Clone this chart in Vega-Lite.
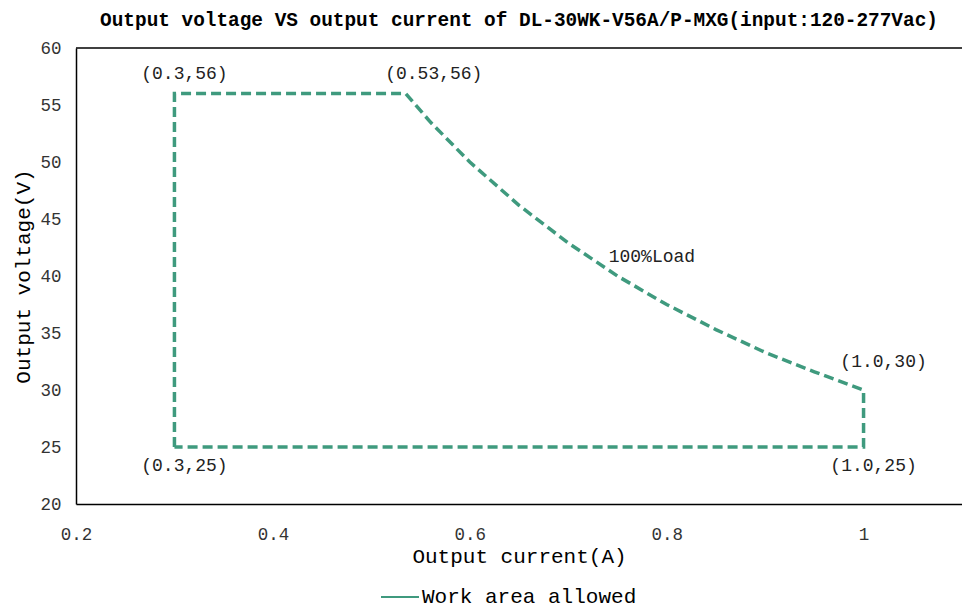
{
  "$schema": "https://vega.github.io/schema/vega-lite/v6.json",
  "autosize": "none",
  "width": 886,
  "height": 456,
  "padding": {"left": 76, "top": 48, "right": 0, "bottom": 104},
  "background": "white",
  "title": {
    "text": "Output voltage VS output current of DL-30WK-V56A/P-MXG(input:120-277Vac)",
    "font": "Liberation Mono",
    "fontSize": 19.4,
    "fontWeight": "bold",
    "color": "#000000",
    "anchor": "middle",
    "offset": 9
  },
  "config": {
    "view": {"stroke": null},
    "font": "Liberation Mono"
  },
  "datasets": {
    "boundary": [
      {"seq": 1, "current": 0.3, "voltage": 25, "series": "Work area allowed"},
      {"seq": 2, "current": 0.3, "voltage": 56, "series": "Work area allowed"},
      {"seq": 3, "current": 0.535, "voltage": 56, "series": "Work area allowed"},
      {"seq": 4, "current": 0.56, "voltage": 53.5, "series": "Work area allowed"},
      {"seq": 5, "current": 0.6, "voltage": 50.0, "series": "Work area allowed"},
      {"seq": 6, "current": 0.65, "voltage": 46.2, "series": "Work area allowed"},
      {"seq": 7, "current": 0.7, "voltage": 42.9, "series": "Work area allowed"},
      {"seq": 8, "current": 0.75, "voltage": 40.0, "series": "Work area allowed"},
      {"seq": 9, "current": 0.8, "voltage": 37.5, "series": "Work area allowed"},
      {"seq": 10, "current": 0.85, "voltage": 35.3, "series": "Work area allowed"},
      {"seq": 11, "current": 0.9, "voltage": 33.3, "series": "Work area allowed"},
      {"seq": 12, "current": 0.95, "voltage": 31.6, "series": "Work area allowed"},
      {"seq": 13, "current": 1.0, "voltage": 30, "series": "Work area allowed"},
      {"seq": 14, "current": 1.0, "voltage": 25, "series": "Work area allowed"},
      {"seq": 15, "current": 0.3, "voltage": 25, "series": "Work area allowed"}
    ],
    "labels": [
      {"label": "(0.3,56)", "current": 0.3, "voltage": 56},
      {"label": "(0.53,56)", "current": 0.535, "voltage": 56},
      {"label": "(1.0,30)", "current": 1.0, "voltage": 30},
      {"label": "(1.0,25)", "current": 1.0, "voltage": 25},
      {"label": "(0.3,25)", "current": 0.3, "voltage": 25},
      {"label": "100%Load", "current": 0.72, "voltage": 41.7}
    ]
  },
  "layer": [
    {
      "data": {"values": [{}]},
      "mark": {"type": "rule", "color": "#000000", "strokeWidth": 1.5},
      "encoding": {"y": {"datum": 60, "type": "quantitative", "scale": {"domain": [20, 60], "nice": false}}}
    },
    {
      "data": {"name": "boundary"},
      "mark": {"type": "line", "strokeWidth": 3.5, "strokeDash": [10, 5], "strokeCap": "butt", "strokeJoin": "miter"},
      "encoding": {
        "x": {
          "field": "current",
          "type": "quantitative",
          "scale": {"domain": [0.2, 1.1], "nice": false, "zero": false},
          "axis": {
            "values": [0.2, 0.4, 0.6, 0.8, 1],
            "format": "~g",
            "grid": false,
            "ticks": false,
            "labelFlush": false,
            "domainColor": "#000000",
            "domainWidth": 1.5,
            "labelFont": "Liberation Mono",
            "labelFontSize": 17.5,
            "labelColor": "#333333",
            "labelPadding": 21,
            "title": "Output current(A)",
            "titleFont": "Liberation Mono",
            "titleFontSize": 21,
            "titleFontWeight": "normal",
            "titleColor": "#000000",
            "titlePadding": 3
          }
        },
        "y": {
          "field": "voltage",
          "type": "quantitative",
          "scale": {"domain": [20, 60], "nice": false, "zero": false},
          "axis": {
            "values": [20, 25, 30, 35, 40, 45, 50, 55, 60],
            "grid": false,
            "ticks": false,
            "labelFlush": false,
            "domainColor": "#000000",
            "domainWidth": 1.5,
            "labelFont": "Liberation Mono",
            "labelFontSize": 17.5,
            "labelColor": "#333333",
            "labelPadding": 15,
            "title": "Output voltage(V)",
            "titleFont": "Liberation Mono",
            "titleFontSize": 21,
            "titleFontWeight": "normal",
            "titleColor": "#000000",
            "titlePadding": 6
          }
        },
        "order": {"field": "seq", "type": "quantitative"},
        "color": {
          "field": "series",
          "type": "nominal",
          "scale": {"range": ["#3f9a7e"]},
          "legend": {
            "orient": "none",
            "legendX": 304,
            "legendY": 529,
            "title": null,
            "symbolType": "stroke",
            "symbolSize": 1444,
            "symbolStrokeWidth": 2,
            "symbolDash": [1, 0],
            "symbolStrokeColor": "#5aaa8e",
            "labelFont": "Liberation Mono",
            "labelFontSize": 21,
            "labelColor": "#000000",
            "labelLimit": 400,
            "labelOffset": 2
          }
        }
      }
    },
    {
      "data": {"name": "labels"},
      "transform": [{"filter": "datum.label == '(0.3,56)'"}],
      "mark": {"type": "text", "fontSize": 18, "color": "#222222", "dx": 10, "dy": -20},
      "encoding": {
        "x": {"field": "current", "type": "quantitative"},
        "y": {"field": "voltage", "type": "quantitative"},
        "text": {"field": "label"}
      }
    },
    {
      "data": {"name": "labels"},
      "transform": [{"filter": "datum.label == '(0.53,56)'"}],
      "mark": {"type": "text", "fontSize": 18, "color": "#222222", "dx": 28, "dy": -20},
      "encoding": {
        "x": {"field": "current", "type": "quantitative"},
        "y": {"field": "voltage", "type": "quantitative"},
        "text": {"field": "label"}
      }
    },
    {
      "data": {"name": "labels"},
      "transform": [{"filter": "datum.label == '(1.0,30)'"}],
      "mark": {"type": "text", "fontSize": 18, "color": "#222222", "dx": 20, "dy": -28},
      "encoding": {
        "x": {"field": "current", "type": "quantitative"},
        "y": {"field": "voltage", "type": "quantitative"},
        "text": {"field": "label"}
      }
    },
    {
      "data": {"name": "labels"},
      "transform": [{"filter": "datum.label == '(1.0,25)' || datum.label == '(0.3,25)'"}],
      "mark": {"type": "text", "fontSize": 18, "color": "#222222", "dx": 10, "dy": 19},
      "encoding": {
        "x": {"field": "current", "type": "quantitative"},
        "y": {"field": "voltage", "type": "quantitative"},
        "text": {"field": "label"}
      }
    },
    {
      "data": {"name": "labels"},
      "transform": [{"filter": "datum.label == '100%Load'"}],
      "mark": {"type": "text", "fontSize": 18, "color": "#222222", "dx": 64, "dy": 0},
      "encoding": {
        "x": {"field": "current", "type": "quantitative"},
        "y": {"field": "voltage", "type": "quantitative"},
        "text": {"field": "label"}
      }
    }
  ]
}
